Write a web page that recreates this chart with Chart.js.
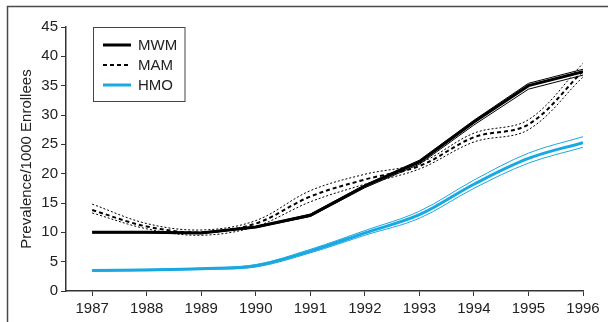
<!DOCTYPE html>
<html>
<head>
<meta charset="utf-8">
<script src="https://cdn.jsdelivr.net/npm/chart.js@4"></script>
<style>
  html, body { margin: 0; padding: 0; background: #fff; }
  #wrap { width: 608px; height: 322px; position: relative; }
</style>
</head>
<body>
<div id="wrap"><canvas id="chart"></canvas></div>
<script>
// ── Data ──
const years = [1987, 1988, 1989, 1990, 1991, 1992, 1993, 1994, 1995, 1996];

const mwm   = [10.0, 10.0, 9.9, 10.9, 12.9, 17.9, 22.0, 28.8, 35.0, 37.4];
const mwmHi = [10.1, 10.1, 10.0, 11.0, 13.1, 18.1, 22.3, 29.1, 35.4, 37.8];
const mwmLo = [9.9, 9.9, 9.8, 10.8, 12.7, 17.6, 21.6, 28.3, 34.4, 36.8];

const mam   = [13.8, 11.0, 10.0, 11.5, 16.1, 19.0, 21.3, 26.2, 28.4, 37.5];
const mamHi = [14.8, 11.5, 10.4, 12.0, 17.1, 19.9, 21.8, 26.9, 29.2, 38.8];
const mamLo = [13.3, 10.6, 9.5, 11.0, 15.2, 18.2, 20.8, 25.4, 27.5, 36.5];

const hmo   = [3.5, 3.6, 3.8, 4.3, 6.8, 9.9, 13.0, 18.2, 22.6, 25.3];
const hmoHi = [3.6, 3.7, 3.9, 4.5, 7.1, 10.3, 13.6, 18.9, 23.5, 26.3];
const hmoLo = [3.4, 3.5, 3.7, 4.1, 6.5, 9.5, 12.4, 17.5, 21.8, 24.5];

const yTicks = [0, 5, 10, 15, 20, 25, 30, 35, 40, 45];
const legendNames = ['MWM', 'MAM', 'HMO'];

const FONT = "'Liberation Sans', Arial, sans-serif";
const BLUE = '#1aa8e0';
const AXIS = '#333';

const pts = arr => arr.map((v, i) => ({ x: years[i], y: v }));

function line(label, arr, opts) {
    return Object.assign({
        label, data: pts(arr), borderColor: '#000', borderWidth: 1,
        pointRadius: 0, fill: false, tension: 0
    }, opts);
}

const datasets = [
    line('MWM hi', mwmHi, {}),
    line('MWM lo', mwmLo, {}),
    line('MAM hi', mamHi, { borderDash: [2, 2], tension: 0.35 }),
    line('MAM lo', mamLo, { borderDash: [2, 2], tension: 0.35 }),
    line('HMO hi', hmoHi, { borderColor: BLUE, tension: 0.35 }),
    line('HMO lo', hmoLo, { borderColor: BLUE, tension: 0.35 }),
    line('MWM', mwm, { borderWidth: 3 }),
    line('MAM', mam, { borderWidth: 2, borderDash: [4, 3], tension: 0.35 }),
    line('HMO', hmo, { borderColor: BLUE, borderWidth: 3, tension: 0.35 })
];

// ── Frame + legend box ──
const framePlugin = {
    id: 'frame',
    beforeDraw(chart) {
        const c = chart.ctx;
        c.save();
        c.strokeStyle = '#4a4a4a';
        c.lineWidth = 1.5;
        c.beginPath();
        c.moveTo(7.5, 322); c.lineTo(7.5, 6.5); c.lineTo(608, 6.5);
        c.stroke();
        c.restore();
    },
    afterDraw(chart) {
        const c = chart.ctx;
        c.save();
        c.fillStyle = '#fff';
        c.fillRect(93.5, 27.5, 91.5, 74);
        c.strokeStyle = '#444';
        c.lineWidth = 1;
        c.strokeRect(93.5, 27.5, 91.5, 74);
        c.font = '15px ' + FONT;
        c.textBaseline = 'middle';
        legendNames.forEach((name, i) => {
            const ds = chart.data.datasets.find(d => d.label === name);
            const y = 45 + i * 20;
            c.strokeStyle = ds.borderColor;
            c.lineWidth = ds.borderWidth;
            c.setLineDash(ds.borderDash || []);
            c.beginPath(); c.moveTo(103, y); c.lineTo(131, y); c.stroke();
            c.setLineDash([]);
            c.fillStyle = '#222';
            c.fillText(name, 138, y + 1);
        });
        c.restore();
    }
};

new Chart(document.getElementById('chart'), {
    type: 'line',
    data: { datasets },
    options: {
        responsive: true, maintainAspectRatio: false, animation: false,
        layout: { padding: { top: 27, right: 25, left: 0, bottom: 0 } },
        plugins: { legend: { display: false }, tooltip: { enabled: false } },
        scales: {
            x: {
                type: 'linear', min: 1986.52, max: 1996,
                afterBuildTicks: s => { s.ticks = years.map(v => ({ value: v })); },
                afterFit: s => { s.height = 31; },
                grid: { drawOnChartArea: false, drawTicks: true, tickLength: 5, color: AXIS },
                border: { color: AXIS, width: 1.5 },
                ticks: { color: '#222', font: { family: FONT, size: 15 }, padding: 4, maxRotation: 0,
                         callback: v => String(v) }
            },
            y: {
                min: 0, max: 45,
                afterBuildTicks: s => { s.ticks = yTicks.map(v => ({ value: v })); },
                afterFit: s => { s.width = 66; },
                grid: { drawOnChartArea: false, drawTicks: true, tickLength: 5, color: AXIS },
                border: { color: AXIS, width: 1.5 },
                ticks: { color: '#222', font: { family: FONT, size: 15 }, padding: 3 },
                title: { display: true, text: 'Prevalence/1000 Enrollees', color: '#222',
                         font: { family: FONT, size: 15 }, padding: { top: 18, bottom: 0 } }
            }
        }
    },
    plugins: [framePlugin]
});
</script>
</body>
</html>
